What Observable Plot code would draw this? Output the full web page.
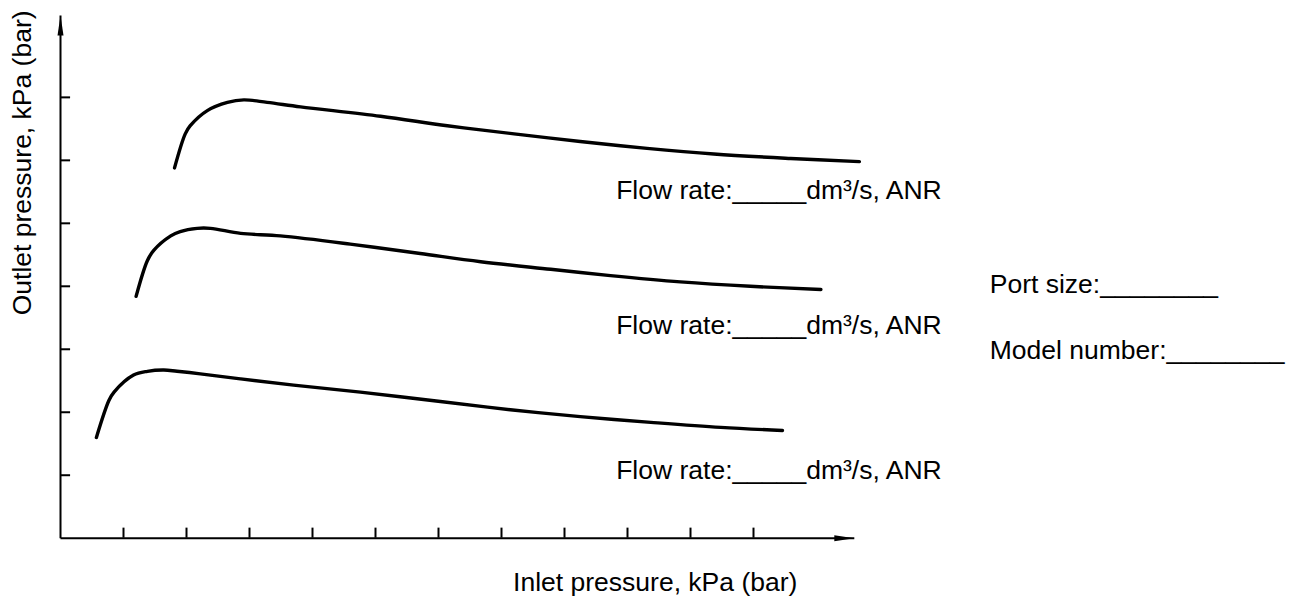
<!DOCTYPE html>
<html>
<head>
<meta charset="utf-8">
<script src="https://cdn.jsdelivr.net/npm/d3@7"></script>
<script src="https://cdn.jsdelivr.net/npm/@observablehq/plot@0.6"></script>
<style>
  html, body { margin: 0; padding: 0; background: #fff; }
  #chart svg { display: block; }
</style>
</head>
<body>
<div id="chart"></div>
<script>
// ---- data (axis units: one tick = one unit) ----
const xTicks = [1, 2, 3, 4, 5, 6, 7, 8, 9, 10, 11];
const yTicks = [1, 2, 3, 4, 5, 6, 7];

const curveTop = [
  [1.81, 5.88], [1.98, 6.42], [2.06, 6.55], [2.33, 6.79], [2.65, 6.92],
  [2.91, 6.96], [3.28, 6.92], [3.81, 6.85], [5.08, 6.70], [6.14, 6.55],
  [7.20, 6.42], [8.25, 6.30], [9.31, 6.19], [10.37, 6.10], [11.59, 6.03], [12.68, 5.98]
];
const curveMid = [
  [1.20, 3.84], [1.38, 4.41], [1.48, 4.57], [1.75, 4.80], [1.90, 4.87],
  [2.17, 4.92], [2.38, 4.92], [2.86, 4.84], [3.49, 4.80], [4.60, 4.67],
  [5.71, 4.52], [6.67, 4.39], [7.78, 4.27], [8.73, 4.17], [9.84, 4.07], [10.95, 4.00], [12.07, 3.95]
];
const curveLow = [
  [0.57, 1.60], [0.77, 2.19], [0.85, 2.32], [1.16, 2.59], [1.38, 2.65],
  [1.64, 2.67], [1.85, 2.65], [2.22, 2.61], [2.86, 2.53], [3.70, 2.43],
  [4.76, 2.32], [6.03, 2.17], [7.14, 2.04], [8.25, 1.93], [9.37, 1.84], [10.48, 1.76], [11.46, 1.71]
];

const flowLabels = [
  {x: 8.82, y: 5.52, text: "Flow rate:_____dm³/s, ANR"},
  {x: 8.82, y: 3.37, text: "Flow rate:_____dm³/s, ANR"},
  {x: 8.82, y: 1.07, text: "Flow rate:_____dm³/s, ANR"}
];
const infoLabels = [
  {x: 14.75, y: 4.03, text: "Port size:________"},
  {x: 14.75, y: 2.98, text: "Model number:________"}
];
const xTitle = [{x: 9.44, y: -0.70, text: "Inlet pressure, kPa (bar)"}];
const yTitle = [{x: -0.60, y: 5.96, text: "Outlet pressure, kPa (bar)"}];

const xMax = 12.6;
const yMax = 8.3;
const tickLen = 0.16;

// ---- chart ----
const font = "Liberation Sans, Arial, Helvetica, sans-serif";
const fs = 26.5;
const lineOpts = () => ({x: p => p[0], y: p => p[1], curve: "catmull-rom", stroke: "black", strokeWidth: 3.4, strokeLinecap: "round", strokeLinejoin: "round"});

const chart = Plot.plot({
  width: 1292,
  height: 603,
  marginLeft: 60,
  marginRight: 438.2,
  marginTop: 15,
  marginBottom: 65.3,
  x: {domain: [0, xMax], axis: null},
  y: {domain: [0, yMax], axis: null},
  style: {background: "white", fontFamily: font},
  marks: [
    Plot.link([0], {x1: 0, y1: 0, x2: xMax, y2: 0, stroke: "black", strokeWidth: 2}),
    Plot.link([0], {x1: 0, y1: 0, x2: 0, y2: yMax, stroke: "black", strokeWidth: 2}),
    Plot.ruleX(xTicks, {x: d => d, y1: 0, y2: tickLen, stroke: "black", strokeWidth: 2}),
    Plot.ruleY(yTicks, {y: d => d, x1: 0, x2: tickLen, stroke: "black", strokeWidth: 2}),
    Plot.line(curveTop, lineOpts()),
    Plot.line(curveMid, lineOpts()),
    Plot.line(curveLow, lineOpts()),
    Plot.text(flowLabels, {x: "x", y: "y", text: "text", textAnchor: "start", fontSize: fs, fill: "black", fontFamily: font}),
    Plot.text(infoLabels, {x: "x", y: "y", text: "text", textAnchor: "start", fontSize: fs, fill: "black", fontFamily: font}),
    Plot.text(xTitle, {x: "x", y: "y", text: "text", textAnchor: "middle", fontSize: fs, fill: "black", fontFamily: font}),
    Plot.text(yTitle, {x: "x", y: "y", text: "text", textAnchor: "middle", rotate: -90, fontSize: fs, fill: "black", fontFamily: font})
  ]
});

// arrowheads on the axis lines
const ns = "http://www.w3.org/2000/svg";
const defs = document.createElementNS(ns, "defs");
const marker = document.createElementNS(ns, "marker");
marker.setAttribute("id", "axis-arrow");
marker.setAttribute("markerUnits", "userSpaceOnUse");
marker.setAttribute("markerWidth", "22");
marker.setAttribute("markerHeight", "10");
marker.setAttribute("viewBox", "0 -5 22 10");
marker.setAttribute("refX", "20");
marker.setAttribute("refY", "0");
marker.setAttribute("orient", "auto");
const head = document.createElementNS(ns, "path");
head.setAttribute("d", "M0,-3L20,0L0,3Z");
head.setAttribute("fill", "black");
marker.appendChild(head);
defs.appendChild(marker);
chart.insertBefore(defs, chart.firstChild);
chart.querySelectorAll('g[aria-label="link"] path').forEach(p => p.setAttribute("marker-end", "url(#axis-arrow)"));

document.getElementById("chart").appendChild(chart);
</script>
</body>
</html>
